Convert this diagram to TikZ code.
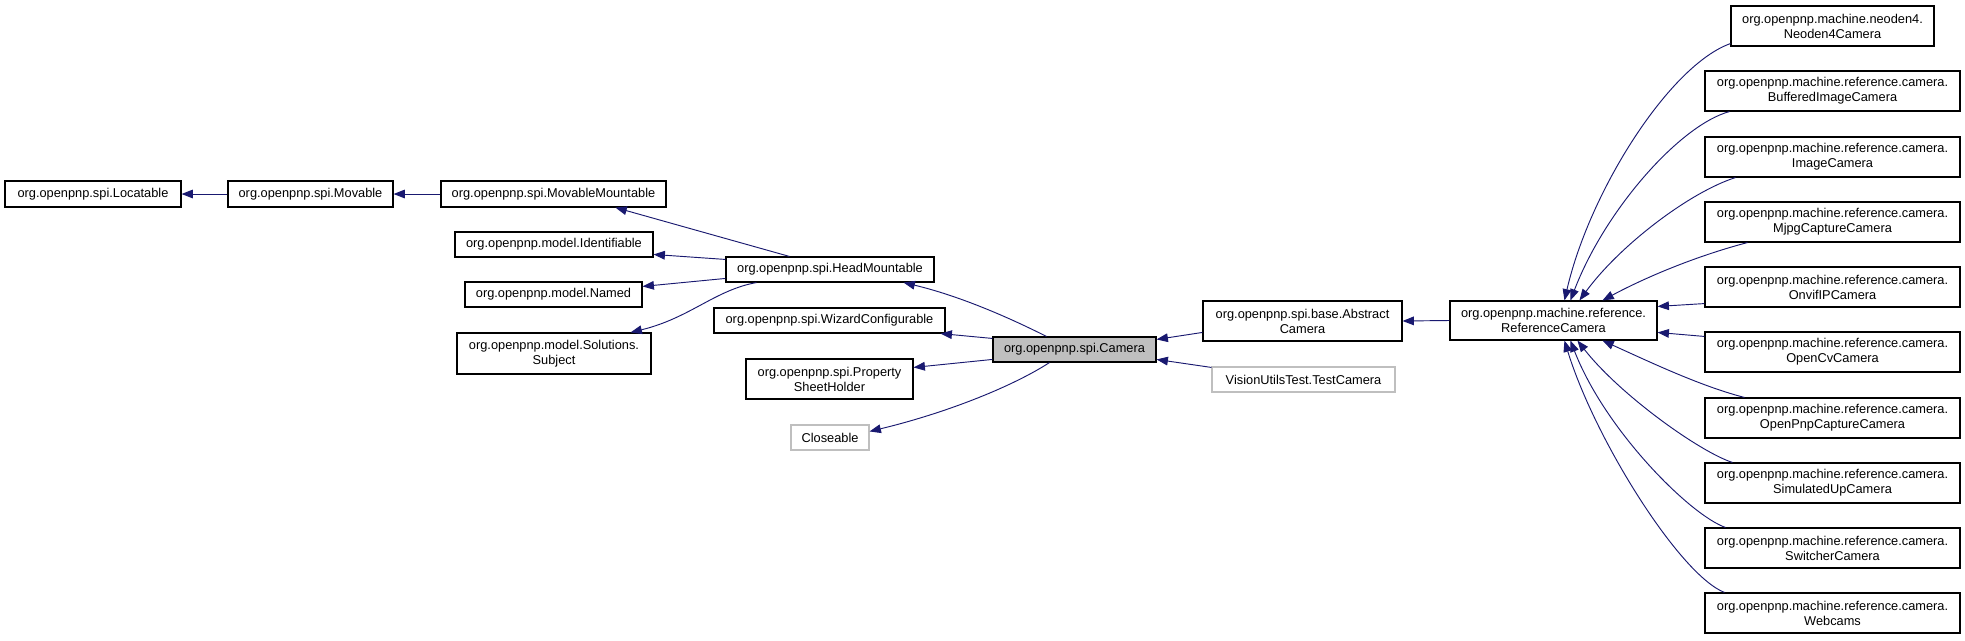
\documentclass[tikz,border=0pt]{standalone}
\usepackage{fontspec}
\setmainfont{Liberation Sans}
\usetikzlibrary{arrows.meta,calc}
\definecolor{edgecol}{HTML}{191970}
\definecolor{greybox}{HTML}{BFBFBF}
\tikzset{
  box/.style={draw=black,line width=0.85pt,fill=white,align=center,inner sep=0pt,
    font=\fontsize{9.6}{11.3}\selectfont},
  extbox/.style={box,draw=greybox},
  edge/.style={draw=edgecol,line width=0.7pt,-{Triangle[length=8.5pt,width=6.5pt]}}
}
\newcommand\cls[6][]{\node[box,#1,minimum width={(#5-#3)*0.75pt},minimum height={(#6-#4)*0.75pt}] (#2) at ({(#3+#5)/2},{(#4+#6)/2})}
\begin{document}
\begin{tikzpicture}[x=0.75pt,y=-0.75pt]
\fill[white] (0,0) rectangle (1965,640);
\useasboundingbox (0,0) rectangle (1965,640);
% left part
\cls{loc}{5}{181}{181}{207}{org.openpnp.spi.Locatable};
\cls{mov}{228}{181}{393}{207}{org.openpnp.spi.Movable};
\cls{mm}{441}{181}{666}{207}{org.openpnp.spi.MovableMountable};
\cls{ident}{455}{232}{653}{257}{org.openpnp.model.Identifiable};
\cls{named}{465}{282}{642}{307}{org.openpnp.model.Named};
\cls{subj}{457}{333}{651}{374}{org.openpnp.model.Solutions.\\Subject};
\cls{hm}{726}{257}{934}{282}{org.openpnp.spi.HeadMountable};
\cls{wiz}{714}{308}{945}{333}{org.openpnp.spi.WizardConfigurable};
\cls{psh}{746}{359}{913}{399}{org.openpnp.spi.Property\\SheetHolder};
\cls[extbox]{close}{791}{425}{869}{450}{Closeable};
\cls[fill=greybox]{cam}{993}{337}{1156}{362}{org.openpnp.spi.Camera};
\cls{abs}{1203}{301}{1402}{341}{org.openpnp.spi.base.Abstract\\Camera};
\cls[extbox]{test}{1212}{367}{1395}{392}{VisionUtilsTest.TestCamera};
\cls{rc}{1450}{301}{1657}{340}{org.openpnp.machine.reference.\\ReferenceCamera};
% right column
\cls{neo}{1731}{6}{1934}{46}{org.openpnp.machine.neoden4.\\Neoden4Camera};
\cls{buf}{1705}{71}{1960}{111}{org.openpnp.machine.reference.camera.\\BufferedImageCamera};
\cls{img}{1705}{137}{1960}{177}{org.openpnp.machine.reference.camera.\\ImageCamera};
\cls{mjpg}{1705}{202}{1960}{242}{org.openpnp.machine.reference.camera.\\MjpgCaptureCamera};
\cls{onvif}{1705}{267}{1960}{307}{org.openpnp.machine.reference.camera.\\OnvifIPCamera};
\cls{ocv}{1705}{332}{1960}{372}{org.openpnp.machine.reference.camera.\\OpenCvCamera};
\cls{opnp}{1705}{398}{1960}{438}{org.openpnp.machine.reference.camera.\\OpenPnpCaptureCamera};
\cls{sim}{1705}{463}{1960}{503}{org.openpnp.machine.reference.camera.\\SimulatedUpCamera};
\cls{sw}{1705}{528}{1960}{568}{org.openpnp.machine.reference.camera.\\SwitcherCamera};
\cls{web}{1705}{593}{1960}{633}{org.openpnp.machine.reference.camera.\\Webcams};
% edges
\draw[edge] (mov.west) -- (loc.east);
\draw[edge] (mm.west) -- (mov.east);
\draw[edge] ($(hm.north west)+(64,0)$) -- ($(mm.south west)+(175,0)$);
\draw[edge] ($(hm.north west)+(0,3)$) -- ($(ident.north east)+(0,23)$);
\draw[edge] ($(hm.north west)+(0,22)$) -- ($(named.north east)+(0,5)$);
\draw[edge] ($(hm.south west)+(31,0)$) .. controls (715,290) and (690,318) .. ($(subj.north east)+(-21,0)$);
\draw[edge] ($(cam.north west)+(54,0)$) .. controls (1010,318) and (960,296) .. ($(hm.south east)+(-31,0)$);
\draw[edge] ($(cam.north west)+(0,2)$) -- ($(wiz.south east)+(-5,0)$);
\draw[edge] ($(cam.north west)+(0,23)$) -- ($(psh.north east)+(0,9)$);
\draw[edge] ($(cam.south west)+(57,0)$) .. controls (1015,385) and (950,412) .. ($(close.north east)+(0,7)$);
\draw[edge] ($(abs.north west)+(0,32)$) -- ($(cam.north east)+(0,3)$);
\draw[edge] ($(test.north west)+(0,1)$) -- ($(cam.north east)+(0,23)$);
\draw[edge] (rc.west) -- (abs.east);
\draw[edge] ($(neo.south west)+(0,-3)$) .. controls (1670,65) and (1590,190) .. ($(rc.north west)+(115,0)$);
\draw[edge] ($(buf.south west)+(25,0)$) .. controls (1680,125) and (1605,210) .. ($(rc.north west)+(121,0)$);
\draw[edge] ($(img.south west)+(31,0)$) .. controls (1690,192) and (1620,245) .. ($(rc.north west)+(130,0)$);
\draw[edge] ($(mjpg.south west)+(43,0)$) .. controls (1700,255) and (1650,275) .. ($(rc.north west)+(153,0)$);
\draw[edge] ($(onvif.south west)+(0,-4)$) -- ($(rc.north east)+(0,6)$);
\draw[edge] ($(ocv.north west)+(0,5)$) -- ($(rc.north east)+(0,32)$);
\draw[edge] ($(opnp.north west)+(40,0)$) .. controls (1700,386) and (1650,362) .. ($(rc.south west)+(153,0)$);
\draw[edge] ($(sim.north west)+(28,0)$) .. controls (1700,452) and (1620,395) .. ($(rc.south west)+(128,0)$);
\draw[edge] ($(sw.north west)+(21,0)$) .. controls (1690,515) and (1605,430) .. ($(rc.south west)+(121,0)$);
\draw[edge] ($(web.north west)+(20,0)$) .. controls (1680,575) and (1595,440) .. ($(rc.south west)+(115,0)$);
\end{tikzpicture}
\end{document}
